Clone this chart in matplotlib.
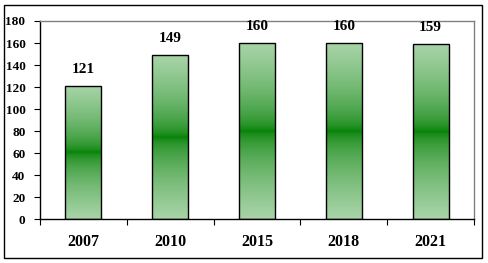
import matplotlib
matplotlib.use("Agg")
import matplotlib.pyplot as plt
import numpy as np
from matplotlib.patches import Rectangle

categories = ["2007", "2010", "2015", "2018", "2021"]
values = [121, 149, 160, 160, 159]
yticks = [0, 20, 40, 60, 80, 100, 120, 140, 160, 180]

plt.rcParams['font.family'] = ['Liberation Serif', 'DejaVu Serif']

fig = plt.figure(figsize=(4.88, 2.63), dpi=100)
ax = fig.add_axes([40/488, 44/263, 434/488, 198/263])

light = np.array([0.66, 0.83, 0.66])
dark = np.array([0.0, 0.50, 0.0])
n = 256
s = np.linspace(0, 1, n)
t = np.abs(s - 0.5) * 2
t = t ** 0.55
cols = dark[None, :] + (light - dark)[None, :] * t[:, None]
img = np.repeat(cols[:, None, :], 2, axis=1)

x = np.arange(len(categories))
width = 0.415
bars = ax.bar(x, values, width=width, facecolor='none', edgecolor='black', linewidth=1.0, zorder=3)
for b, v in zip(bars, values):
    x0 = b.get_x()
    im = ax.imshow(img, extent=(x0, x0 + b.get_width(), 0, b.get_height()),
                   aspect='auto', origin='lower', zorder=2, interpolation='bilinear')
    im.set_clip_path(b)
    ax.annotate(str(v), (b.get_x() + b.get_width()/2, v), xytext=(0, 7),
                textcoords='offset points', ha='center', va='bottom',
                fontsize=11, fontweight='bold')

ax.set_xlim(-0.5, len(categories) - 0.5)
ax.set_ylim(0, 180)
ax.set_yticks(yticks)
ax.set_yticklabels([str(v) for v in yticks], fontsize=9.5, fontweight='bold')
ax.set_xticks(np.arange(-0.5, len(categories), 1.0))
ax.set_xticklabels([])
ax.set_xticks(x, minor=True)
ax.set_xticklabels(categories, minor=True, fontsize=11.5, fontweight='bold')
ax.tick_params(axis='x', which='minor', length=0, pad=10.5)
ax.tick_params(axis='x', which='major', length=4, width=0.8, direction='out')
ax.tick_params(axis='y', length=4, width=0.8, direction='out', pad=6.5)

ax.spines['left'].set_color('black')
ax.spines['bottom'].set_color('black')
ax.spines['top'].set_color('#808080')
ax.spines['right'].set_color('#808080')
for sp in ax.spines.values():
    sp.set_linewidth(1.0)

fig.patches.append(Rectangle((4/488, 5/263), 478/488, 253/263, transform=fig.transFigure,
                             fill=False, edgecolor='black', linewidth=1.0))

fig.savefig("out.png", dpi=100)
